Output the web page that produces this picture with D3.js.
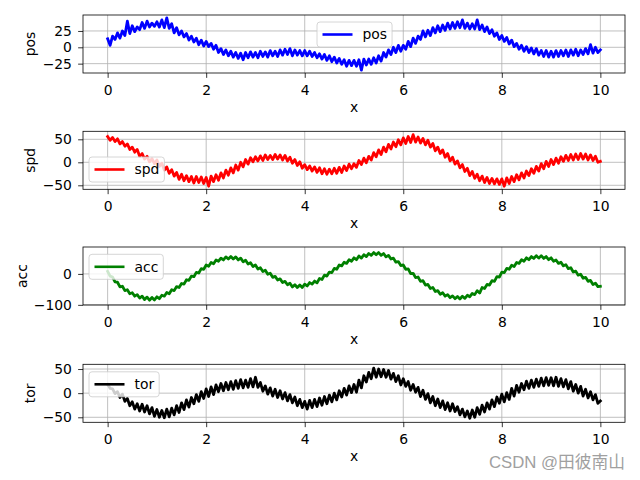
<!DOCTYPE html>
<html>
<head>
<meta charset="utf-8">
<script src="https://cdn.jsdelivr.net/npm/d3@7"></script>
<style>
html,body{margin:0;padding:0;background:#fff;}
svg{display:block;font-family:"DejaVu Sans",sans-serif;}
</style>
</head>
<body>
<svg id="chart" width="640" height="480"></svg>
<script>
// ---------- data ----------
const xTicks = [0, 2, 4, 6, 8, 10];
const seriesNames = ["pos", "spd", "acc", "tor"];
const seriesColors = ["#0000ff", "#ff0000", "#008000", "#000000"];

const posValues = [
 13, 3, 17, 12, 22, 14, 25, 18, 40, 21, 33, 24, 31, 27, 38, 29, 40, 31, 37, 32,
 39, 31, 42, 30, 45, 29, 36, 22, 30, 19, 25, 16, 21, 11, 17, 8, 14, 4, 11, 2,
 9, 1, 6, -3, 3, -8, -2, -11, -4, -13, -6, -15, -8, -17, -9, -19, -8, -16, -7, -15,
 -8, -16, -6, -14, -7, -15, -5, -13, -6, -14, -4, -12, -3, -11, -2, -13, -4, -12, -5, -13,
 -5, -13, -6, -14, -8, -16, -10, -18, -11, -20, -13, -22, -15, -24, -17, -26, -19, -29, -20, -28,
 -20, -29, -19, -35, -18, -27, -18, -26, -16, -24, -13, -21, -8, -15, -4, -11, 0, -8, 3, -6,
 3, -3, 9, 1, 14, 6, 17, 12, 25, 16, 26, 18, 30, 22, 33, 24, 34, 26, 37, 28,
 38, 29, 39, 30, 42, 29, 37, 28, 36, 28, 42, 27, 34, 24, 31, 21, 27, 17, 22, 12,
 18, 9, 15, 5, 11, 1, 6, -3, 3, -6, 1, -8, -1, -10, -2, -12, -5, -14, -5, -15,
 -6, -15, -5, -14, -5, -13, -4, -14, -4, -12, -3, -13, -4, -11, -2, -10, 4, -9, 0, -8,
 -4
];
const spdValues = [
 56, 48, 54, 45, 51, 40, 45, 35, 40, 28, 33, 22, 28, 13, 19, 7, 13, 1, 8, -3,
 5, -9, -2, -17, -10, -24, -16, -30, -22, -37, -26, -40, -29, -42, -31, -45, -31, -44, -32, -46,
 -33, -52, -30, -42, -27, -39, -23, -34, -17, -28, -12, -23, -6, -17, 0, -10, 6, -4, 10, 1,
 12, 3, 14, 4, 16, 6, 15, 6, 17, 7, 16, 5, 15, 3, 11, -2, 6, -7, 1, -13,
 -5, -16, -8, -19, -10, -22, -12, -25, -14, -26, -15, -25, -13, -24, -11, -22, -8, -18, -4, -14,
 -3, -11, 4, -5, 9, -1, 13, 5, 21, 12, 27, 17, 33, 23, 39, 29, 44, 34, 49, 38,
 53, 41, 56, 43, 60, 44, 55, 42, 52, 38, 48, 33, 41, 25, 33, 19, 27, 11, 19, 3,
 11, -4, 3, -12, -5, -20, -13, -29, -20, -35, -26, -40, -30, -44, -33, -46, -35, -47, -36, -48,
 -36, -52, -34, -46, -31, -42, -27, -38, -23, -34, -19, -29, -14, -24, -9, -19, -3, -14, 2, -9,
 6, -5, 9, -2, 12, 2, 15, 4, 17, 5, 18, 6, 19, 7, 18, 5, 16, 4, 13, 0,
 2
];
const accValues = [
 8, -7, -10, -26, -27, -42, -40, -54, -51, -64, -61, -72, -67, -78, -72, -83, -75, -85, -76, -84,
 -74, -80, -69, -72, -60, -64, -51, -54, -41, -44, -31, -33, -19, -21, -7, -9, 5, 3, 17, 15,
 29, 25, 37, 33, 45, 41, 51, 45, 55, 48, 56, 48, 55, 45, 51, 39, 44, 32, 36, 24,
 29, 16, 20, 8, 12, -1, 2, -11, -8, -20, -16, -28, -24, -35, -30, -42, -35, -44, -36, -44,
 -33, -39, -28, -33, -23, -29, -15, -18, -4, -7, 6, 4, 18, 15, 29, 26, 38, 34, 46, 41,
 52, 46, 58, 51, 62, 56, 66, 60, 69, 62, 69, 60, 66, 55, 60, 48, 51, 38, 40, 27,
 29, 15, 16, 1, 2, -12, -10, -24, -22, -36, -34, -47, -44, -57, -54, -66, -61, -72, -67, -77,
 -71, -80, -73, -81, -72, -79, -69, -74, -63, -67, -54, -62, -44, -47, -34, -36, -22, -24, -9, -10,
 6, 4, 18, 15, 28, 24, 37, 34, 46, 41, 52, 46, 56, 50, 59, 51, 59, 50, 56, 46,
 52, 41, 45, 34, 38, 26, 30, 17, 20, 6, 9, -4, -1, -14, -11, -24, -21, -34, -30, -41,
 -40
];
const torValues = [
 18, 10, 9, -1, 3, -9, -2, -17, -11, -26, -18, -33, -22, -37, -23, -39, -26, -43, -30, -48,
 -34, -50, -36, -51, -33, -49, -31, -45, -26, -40, -20, -34, -14, -29, -9, -22, -3, -17, 3, -11,
 9, -7, 13, -3, 17, 3, 20, 5, 22, 7, 24, 8, 26, 10, 28, 11, 27, 12, 30, 13,
 33, 12, 22, 4, 15, -2, 11, -6, 8, -9, 5, -12, 1, -16, -3, -20, -8, -26, -13, -30,
 -17, -33, -15, -30, -13, -28, -10, -25, -7, -22, -4, -18, 0, -14, 5, -8, 10, -4, 15, 1,
 18, 2, 27, 11, 36, 23, 43, 30, 52, 33, 50, 34, 49, 33, 47, 29, 41, 24, 36, 17,
 30, 14, 24, 6, 18, 2, 12, -7, 6, -13, -1, -20, -7, -26, -12, -30, -16, -34, -20, -37,
 -22, -38, -28, -45, -33, -49, -37, -52, -35, -50, -30, -44, -25, -39, -20, -33, -14, -28, -8, -21,
 -2, -18, 1, -13, 10, -6, 16, 2, 20, 7, 25, 10, 27, 12, 29, 14, 31, 15, 32, 16,
 32, 15, 33, 14, 30, 13, 28, 9, 24, 4, 18, 0, 14, -6, 8, -10, 3, -14, -3, -21,
 -16
];
const xValues = d3.range(posValues.length).map(i => i / 20);

const yTickValues = [[-25, 0, 25], [-50, 0, 50], [-100, 0], [-50, 0, 50]];
const yDomains = [[-39.3, 49.4], [-58.7, 67.4], [-100.5, 87], [-60.4, 59.8]];
const allValues = [posValues, spdValues, accValues, torValues];

// ---------- layout ----------
const svg = d3.select("#chart");
const axL = 83, axR = 625, axH = 58;
const tops = [15, 131.3, 247, 364.3];
const ylabelX = [34.5, 34.5, 26.5, 34.5];
const legendPos = [[317, 22], [89, 157], [89, 254.3], [89, 371.8]];
const FS = 13.9;

const x = d3.scaleLinear().domain([-0.5, 10.5]).range([axL, axR]);

svg.append("rect").attr("width", 640).attr("height", 480).attr("fill", "#fff");

seriesNames.forEach((name, k) => {
  const top = tops[k], bottom = top + axH;
  const y = d3.scaleLinear().domain(yDomains[k]).range([bottom, top]);
  const g = svg.append("g");

  const clipId = "clip" + k;
  svg.append("clipPath").attr("id", clipId)
    .append("rect").attr("x", axL).attr("y", top).attr("width", axR - axL).attr("height", axH);

  // grid
  g.append("g").selectAll("line").data(xTicks).join("line")
    .attr("x1", d => x(d)).attr("x2", d => x(d))
    .attr("y1", top).attr("y2", bottom)
    .attr("stroke", "#b0b0b0").attr("stroke-width", 0.8);
  g.append("g").selectAll("line").data(yTickValues[k]).join("line")
    .attr("x1", axL).attr("x2", axR)
    .attr("y1", d => y(d)).attr("y2", d => y(d))
    .attr("stroke", "#b0b0b0").attr("stroke-width", 0.8);

  // series line
  const line = d3.line().x((d, i) => x(xValues[i])).y(d => y(d));
  g.append("path").datum(allValues[k])
    .attr("clip-path", `url(#${clipId})`)
    .attr("d", line)
    .attr("fill", "none")
    .attr("stroke", seriesColors[k])
    .attr("stroke-width", 2.8)
    .attr("stroke-linejoin", "round")
    .attr("stroke-linecap", "square");

  // spines
  g.append("rect").attr("x", axL).attr("y", top).attr("width", axR - axL).attr("height", axH)
    .attr("fill", "none").attr("stroke", "#000").attr("stroke-width", 0.8);

  // axes
  const xa = g.append("g").attr("transform", `translate(0,${bottom})`)
    .call(d3.axisBottom(x).tickValues(xTicks).tickFormat(d3.format("d"))
      .tickSize(4.86).tickPadding(7).tickSizeOuter(0));
  const ya = g.append("g").attr("transform", `translate(${axL},0)`)
    .call(d3.axisLeft(y).tickValues(yTickValues[k]).tickFormat(d3.format("d"))
      .tickSize(4.86).tickPadding(6.2).tickSizeOuter(0));
  [xa, ya].forEach(a => {
    a.select(".domain").remove();
    a.selectAll(".tick line").attr("stroke", "#000").attr("stroke-width", 0.8);
    a.selectAll(".tick text").attr("fill", "#000")
      .style("font-family", "DejaVu Sans").style("font-size", FS + "px");
  });

  // axis labels
  g.append("text").attr("x", (axL + axR) / 2).attr("y", bottom + 38.7)
    .attr("text-anchor", "middle").style("font-size", FS + "px").text("x");
  g.append("text")
    .attr("transform", `translate(${ylabelX[k]},${(top + bottom) / 2}) rotate(-90)`)
    .attr("text-anchor", "middle").style("font-size", FS + "px").text(name);

  // legend
  const [lx, ly] = legendPos[k];
  const lg = g.append("g");
  const box = lg.append("rect").attr("x", lx).attr("y", ly).attr("height", 25)
    .attr("rx", 3).attr("ry", 3)
    .attr("fill", "#fff").attr("fill-opacity", 0.8)
    .attr("stroke", "#cccccc").attr("stroke-width", 0.8);
  lg.append("line").attr("x1", lx + 5.5).attr("x2", lx + 35.5)
    .attr("y1", ly + 12.5).attr("y2", ly + 12.5)
    .attr("stroke", seriesColors[k]).attr("stroke-width", 2.6);
  const lt = lg.append("text").attr("x", lx + 45.5).attr("y", ly + 12.5)
    .attr("dy", "0.35em").style("font-size", FS + "px").text(name);
  const tw = lt.node().getComputedTextLength();
  box.attr("width", 45.5 + tw + 5);
});

// watermark
svg.append("text").attr("x", 489).attr("y", 468)
  .style("font-family", "'Liberation Sans','Noto Sans CJK SC',sans-serif")
  .style("font-size", "16.5px").attr("fill", "#a0a0a0")
  .attr("textLength", 136).attr("lengthAdjust", "spacingAndGlyphs")
  .text("CSDN @田彼南山");
</script>
</body>
</html>
